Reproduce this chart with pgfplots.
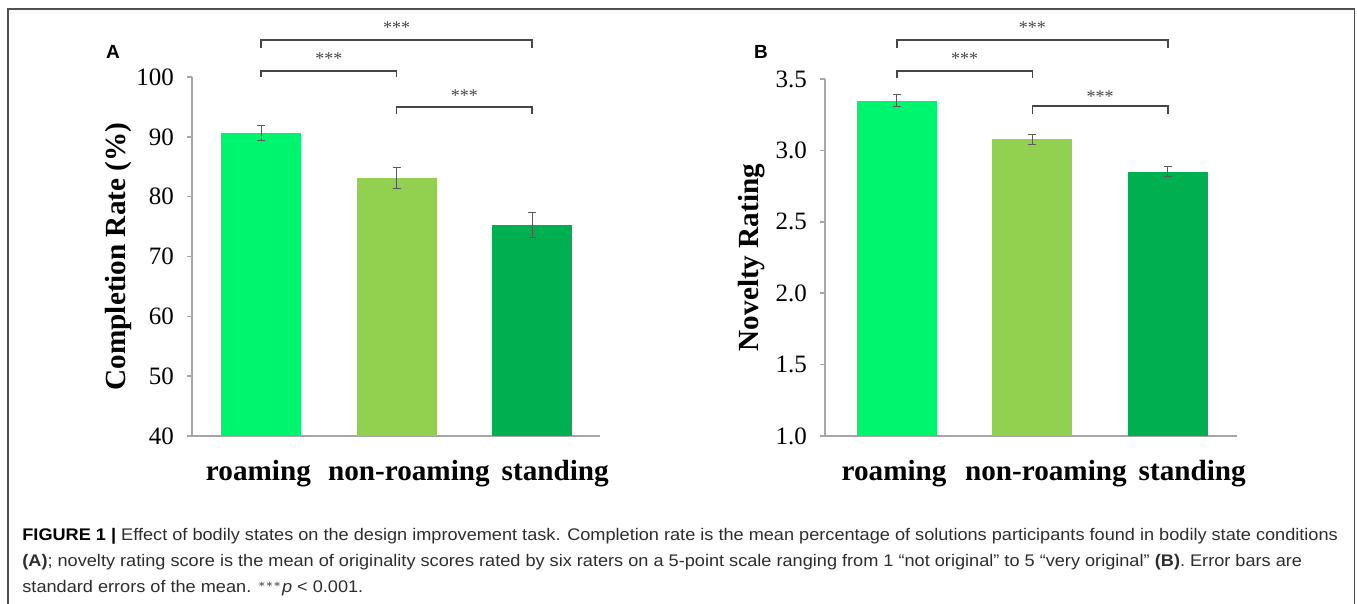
\documentclass[border=0pt]{standalone}
\usepackage{pgfplots}
\pgfplotsset{compat=1.18}
\usepackage{fontspec}
\setmainfont{Liberation Serif}
\newfontfamily\capfont[FakeStretch=1.08]{Liberation Sans}
\newfontfamily\letfont{Liberation Sans}
\definecolor{cRoam}{RGB}{0,245,110}
\definecolor{cNon}{RGB}{146,208,80}
\definecolor{cStand}{RGB}{0,176,80}
\definecolor{axgray}{RGB}{166,166,166}
\definecolor{brk}{RGB}{70,70,70}
\definecolor{errc}{RGB}{89,89,89}
\definecolor{captxt}{RGB}{45,45,45}

\pgfplotsset{
  panel/.style={
    scale only axis,
    axis x line*=bottom, axis y line*=left,
    axis line style={axgray, line width=0.75pt},
    xticklabels={roaming, non-roaming, standing},
    x tick label style={font=\fontsize{14.6}{16}\selectfont\bfseries, yshift=-6pt},
    major x tick style={draw=none},
    y tick label style={font=\fontsize{12.5}{14}\selectfont},
    major y tick style={axgray, line width=0.75pt},
    tick align=outside,
    major tick length=2.5pt,
    ylabel style={font=\fontsize{14.6}{16}\selectfont\bfseries, anchor=center},
    /pgf/number format/assume math mode=true,
    clip=false,
  },
  barp/.style={ybar, bar width=40pt, bar shift=0pt, fill=#1, draw=none,
    error bars/.cd, y dir=both, y explicit,
    error bar style={errc, line width=0.5pt},
    error mark options={rotate=90, mark size=2pt, line width=0.5pt, errc}},
}

\begin{document}
\begin{tikzpicture}
\useasboundingbox (0,0) rectangle (678.5pt,302pt);
\draw[color={rgb,255:red,80;green,80;blue,80}, line width=0.9pt] (4pt,297.5pt) rectangle (677.2pt,-10pt);

% Panel A
\begin{axis}[panel, at={(96pt,84pt)}, anchor=south west,
  width=204pt, height=179.5pt,
  xmin=-0.51, xmax=2.5,
  xtick={-0.02,1.09,2.17},
  ymin=40, ymax=100, ytick={40,50,...,100},
  ylabel={Completion Rate (\%)},
  ylabel style={at={(axis description cs:-0.181,0.5)}},
  yticklabel style={xshift=-3pt}]
\addplot[barp=cRoam] coordinates {(0,90.6) +- (0,1.25)};
\addplot[barp=cNon] coordinates {(1,83.1) +- (0,1.8)};
\addplot[barp=cStand] coordinates {(2,75.2) +- (0,2.1)};
\draw[brk, line width=0.75pt] (axis cs:0,104.85) -- (axis cs:0,106.2) -- (axis cs:2,106.2) -- (axis cs:2,104.85);
\draw[brk, line width=0.75pt] (axis cs:0,100.0) -- (axis cs:0,101.0) -- (axis cs:1,101.0) -- (axis cs:1,100.0);
\draw[brk, line width=0.75pt] (axis cs:1,93.8) -- (axis cs:1,95.0) -- (axis cs:2,95.0) -- (axis cs:2,93.8);
\node[font=\fontsize{9}{10}\selectfont, text=brk] at (axis cs:1,108.3) {***};
\node[font=\fontsize{9}{10}\selectfont, text=brk] at (axis cs:0.5,103.1) {***};
\node[font=\fontsize{9}{10}\selectfont, text=brk] at (axis cs:1.5,96.9) {***};
\end{axis}

% Panel B
\begin{axis}[panel, at={(412.5pt,84pt)}, anchor=south west,
  width=206pt, height=178.5pt,
  xmin=-0.53, xmax=2.51,
  xtick={-0.02,1.10,2.18},
  ymin=1, ymax=3.5, ytick={1,1.5,...,3.5},
  yticklabel style={xshift=-3pt, /pgf/number format/.cd, fixed, fixed zerofill, precision=1},
  ylabel={Novelty Rating},
  ylabel style={at={(axis description cs:-0.177,0.5)}}]
\addplot[barp=cRoam] coordinates {(0,3.348) +- (0,0.043)};
\addplot[barp=cNon] coordinates {(1,3.078) +- (0,0.036)};
\addplot[barp=cStand] coordinates {(2,2.85) +- (0,0.035)};
\draw[brk, line width=0.75pt] (axis cs:0,3.717) -- (axis cs:0,3.773) -- (axis cs:2,3.773) -- (axis cs:2,3.717);
\draw[brk, line width=0.75pt] (axis cs:0,3.507) -- (axis cs:0,3.556) -- (axis cs:1,3.556) -- (axis cs:1,3.507);
\draw[brk, line width=0.75pt] (axis cs:1,3.255) -- (axis cs:1,3.311) -- (axis cs:2,3.311) -- (axis cs:2,3.255);
\node[font=\fontsize{9}{10}\selectfont, text=brk] at (axis cs:1,3.857) {***};
\node[font=\fontsize{9}{10}\selectfont, text=brk] at (axis cs:0.5,3.64) {***};
\node[font=\fontsize{9}{10}\selectfont, text=brk] at (axis cs:1.5,3.38) {***};
\end{axis}

% Panel letters
\node[font=\letfont\bfseries\fontsize{9.5}{11}\selectfont] at (56.5pt,276pt) {A};
\node[font=\letfont\bfseries\fontsize{9.5}{11}\selectfont] at (380.5pt,276pt) {B};

% Caption
\begin{scope}[every node/.style={anchor=base west, inner sep=0pt, text=captxt, font=\capfont\fontsize{8.4}{10}\selectfont}]
\node at (11pt,31.5pt) {\textbf{\color{black}FIGURE 1 |} Effect of bodily states on the design improvement task. Completion rate is the mean percentage of solutions participants found in bodily state conditions};
\node at (11pt,18.5pt) {\textbf{(A)}; novelty rating score is the mean of originality scores rated by six raters on a 5-point scale ranging from 1 “not original” to 5 “very original” \textbf{(B)}. Error bars are};
\node at (11pt,5.5pt) {standard errors of the mean. $^{***}$\textit{p} < 0.001.};
\end{scope}
\end{tikzpicture}
\end{document}
